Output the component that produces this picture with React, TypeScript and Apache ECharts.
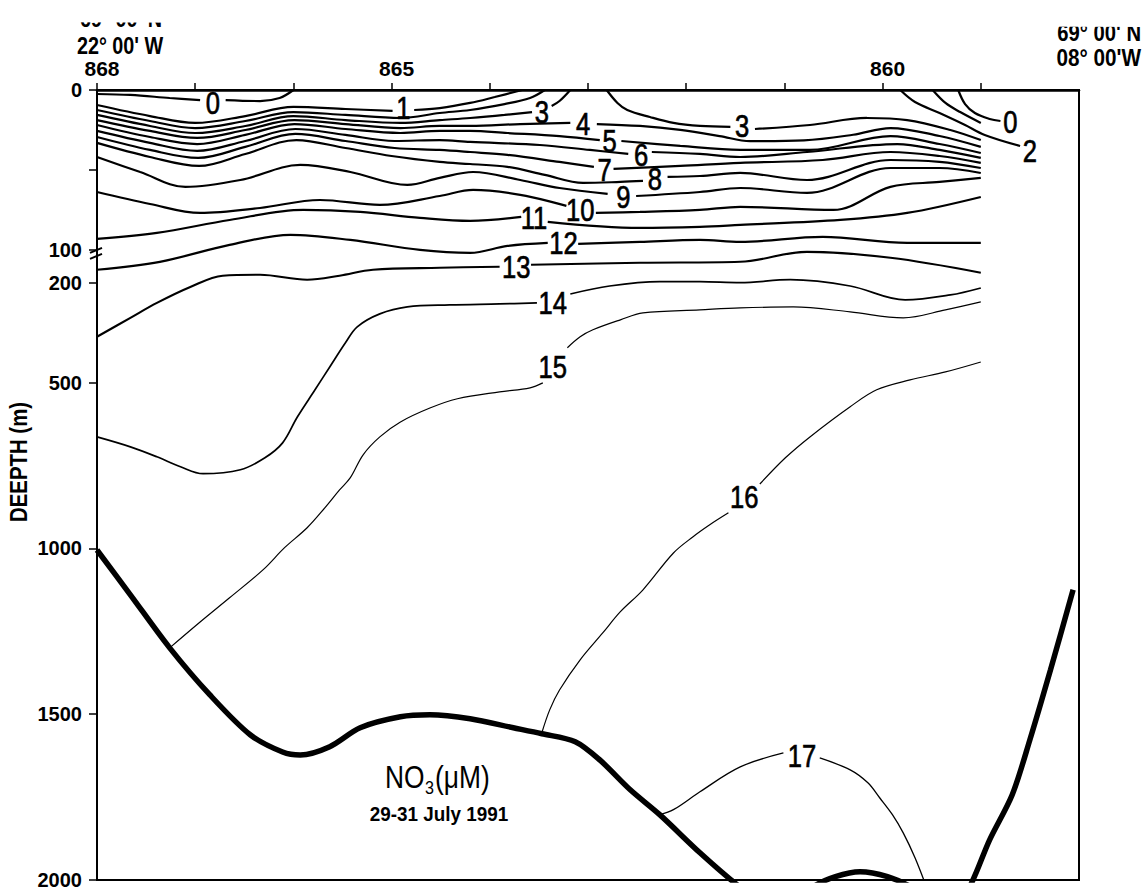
import React, { useEffect, useRef } from 'react';
import * as echarts from 'echarts';

const FONT = "'Liberation Sans', Arial, sans-serif";

// Stations along the section, west (22°W) to east (8°W); x = station index
const stations = [868, 867, 866, 865, 864, 863, 862, 861, 860, 859];
const labelledStations = [868, 865, 860];
const sectionEnd = 10;

// Depth axis (m): upper 100 m stretched, 100–2000 m linear
const depthTicks = [0, 50, 100, 200, 500, 1000, 1500, 2000];
const depthLabels = [0, 100, 200, 500, 1000, 1500, 2000];
const STRETCH = 4.82;
const axisDepth = (d: number) => (d <= 100 ? d * STRETCH : 100 * STRETCH + (d - 100));
const depthFromAxis = (u: number) => (u <= 100 * STRETCH ? u / STRETCH : u - 100 * STRETCH + 100);

// NO3 isolines (µM): segments of [station index, depth m], broken where the value is written
const iso0W = [
  [[0, 2.5], [0.34, 3.1], [0.74, 5], [1.05, 6.3]],
  [[1.31, 6.3], [1.66, 6.9], [1.86, 5], [2.0, 0]],
];
const iso0E = [[[8.77, 0], [8.84, 8.8], [8.94, 14.4], [9.09, 18.1], [9.2, 19.4]]];
const iso1W = [
  [[0, 9.4], [0.54, 16.3], [1.0, 20.6], [1.51, 16.3], [2.0, 10.6], [2.53, 11.9], [3.01, 13.1]],
  [[3.23, 12.5], [3.49, 11.3], [3.8, 8.1], [4.05, 4.4], [4.33, 0]],
];
const iso1E = [[[8.51, 0], [8.64, 8.1], [8.79, 13.8], [9.0, 20.6]]];
const iso2W = [[[0, 12.5], [0.54, 19.4], [1.0, 23.8], [1.51, 19.4], [2.0, 13.8], [2.53, 15.6], [3.09, 17.5], [3.49, 14.4], [3.8, 12.5], [4.15, 8.8], [4.41, 5], [4.56, 0]]];
const iso2E = [[[8.18, 0], [8.33, 7.5], [8.58, 14.4], [8.84, 21.9], [9.04, 28.1], [9.4, 35]]];
const iso3W = [
  [[0, 15.6], [0.54, 22.5], [1.0, 26.9], [1.51, 22.5], [2.0, 16.3], [2.53, 18.8], [3.09, 20.6], [3.49, 18.8], [3.8, 17.5], [4.15, 15.6], [4.43, 13.8]],
  [[4.63, 10], [4.71, 6.9], [4.82, 0]],
];
const iso3E = [
  [[5.19, 0], [5.3, 8.1], [5.4, 12.5], [5.63, 16.9], [5.87, 20.6], [6.14, 22.5], [6.45, 23.1]],
  [[6.7, 24.4], [7.26, 21.9], [7.84, 17.5], [8.25, 18.8], [8.69, 25], [9.0, 31.3]],
];
const iso4 = [
  [[0, 18.8], [0.54, 25.6], [1.02, 30], [1.51, 25], [2.01, 18.8], [2.53, 21.3], [3.09, 23.8], [3.49, 22.5], [3.8, 22.5], [4.31, 21.3], [4.82, 20.6]],
  [[5.09, 21.3], [5.53, 22.5], [5.94, 25], [6.34, 28.8], [6.65, 32], [7.2, 31.5], [7.7, 28], [8.08, 23.8], [8.58, 28.8], [9.0, 35.6]],
];
const iso5 = [
  [[0, 21.9], [0.54, 29.4], [1.02, 33.8], [1.51, 28.1], [2.01, 21.3], [2.53, 24.4], [3.09, 26.9], [3.49, 25.6], [3.8, 25.6], [4.18, 26.9], [4.71, 28.8], [5.12, 31.3]],
  [[5.34, 31.9], [5.94, 35], [6.55, 37.5], [7.26, 37.5], [8.08, 28.8], [8.58, 33.8], [9.0, 39.4]],
];
const iso6 = [
  [[0, 25.6], [0.54, 33.1], [1.02, 38.1], [1.51, 31.9], [2.02, 24.4], [2.53, 28.1], [3.03, 31.9], [3.49, 31.3], [3.8, 32.5], [4.51, 34.4], [5.02, 37.5], [5.41, 40]],
  [[5.65, 38.8], [6.14, 40], [6.55, 41.9], [7.23, 38.8], [8.15, 33.8], [8.58, 37.5], [9.0, 42.5]],
];
const iso7 = [
  [[0, 29.4], [0.54, 37.5], [1.03, 42.5], [1.51, 35.6], [2.02, 27.5], [2.53, 31.9], [3.03, 36.3], [3.49, 37.5], [3.8, 38.8], [4.18, 40.6], [4.71, 45], [5.06, 48.1]],
  [[5.26, 49.4], [5.94, 47.5], [6.55, 45.6], [7.39, 43.8], [8.08, 38.8], [8.58, 41.3], [9.0, 45.6]],
];
const iso8 = [
  [[0, 33.1], [0.54, 41.9], [1.04, 47.5], [1.51, 40], [2.03, 31.3], [2.53, 36.3], [3.0, 41.3], [3.49, 45], [3.8, 46.3], [4.18, 48.1], [4.56, 53.1], [4.95, 58.1], [5.33, 57.5], [5.56, 56.9]],
  [[5.81, 54.4], [6.14, 53.8], [6.55, 51.9], [7.23, 56.3], [8.08, 43.8], [8.58, 45], [9.0, 48.8]],
];
const iso9 = [
  [[0, 41.9], [0.44, 51.3], [0.9, 60.6], [1.46, 56.3], [2.07, 46.9], [2.58, 51.3], [3.16, 59.4], [3.49, 55], [3.83, 51.3], [4.31, 56.3], [4.71, 61.3], [5.2, 65]],
  [[5.49, 66.3], [6.14, 63.8], [6.55, 61.3], [7.23, 64.4], [8.08, 48.8], [8.58, 48.8], [9.0, 51.9]],
];
const iso10 = [
  [[0, 63.8], [0.54, 71.3], [1.05, 76.9], [1.66, 73.8], [2.27, 68.8], [2.88, 71.9], [3.49, 66.3], [3.83, 62.5], [4.31, 65.6], [4.78, 72.5]],
  [[5.08, 76.9], [5.53, 76.3], [6.14, 75], [6.55, 73.1], [7.5, 75], [8.08, 60.6], [8.58, 57.5], [9.0, 55]],
];
const iso11 = [
  [[0, 93.1], [0.61, 89.4], [1.35, 81.3], [2.1, 75], [2.68, 76.3], [3.29, 80], [3.8, 81.9], [4.32, 79.4]],
  [[4.59, 82.5], [5.53, 86.3], [6.14, 85.6], [6.55, 84.4], [7.57, 81.3], [8.25, 76.9], [9.0, 66.9]],
];
const iso12 = [
  [[0, 160], [0.64, 136], [1.35, 96.9], [1.97, 90.6], [2.58, 93.8], [3.29, 100], [3.8, 109], [4.18, 97.5], [4.59, 95.6]],
  [[4.9, 96.3], [5.53, 95], [6.14, 93.8], [6.55, 95], [7.39, 91.9], [8.25, 95.6], [9.0, 95.6]],
];
const iso13 = [
  [[0, 362], [0.34, 305], [0.61, 260], [0.95, 212], [1.28, 178], [1.66, 175], [2.14, 190], [2.47, 178], [2.81, 160], [3.49, 154], [4.1, 151]],
  [[4.42, 145], [5.53, 139], [6.55, 136], [7.23, 106], [8.08, 124], [9.0, 169]],
];
const iso14 = [
  [[0, 664], [0.34, 694], [0.61, 724], [0.85, 754], [1.08, 775], [1.46, 763], [1.71, 727], [1.89, 682], [2.04, 604], [2.22, 522], [2.37, 453], [2.53, 380], [2.65, 332], [2.88, 293], [3.16, 272], [3.59, 266], [4.1, 263], [4.48, 260]],
  [[4.82, 233], [5.22, 209], [5.73, 196], [6.14, 196], [6.55, 199], [7.06, 190], [7.67, 209], [8.23, 251], [8.69, 236], [9.0, 215]],
];
const iso15 = [
  [[0.74, 1300], [1.05, 1222], [1.35, 1149], [1.69, 1065], [1.91, 998], [2.14, 938], [2.32, 878], [2.47, 824], [2.58, 787], [2.71, 718], [2.88, 664], [3.09, 619], [3.39, 577], [3.67, 549], [4.1, 528], [4.41, 516], [4.54, 501]],
  [[4.79, 395], [4.92, 362], [5.05, 341], [5.33, 311], [5.56, 290], [6.14, 281], [6.55, 275], [7.09, 272], [7.67, 287], [8.21, 305], [8.64, 281], [9.0, 257]],
];
const iso16 = [
  [[4.53, 1556], [4.61, 1487], [4.71, 1427], [4.92, 1336], [5.15, 1255], [5.33, 1191], [5.56, 1125], [5.87, 1014], [6.07, 965], [6.24, 929], [6.43, 893]],
  [[6.75, 806], [7.01, 727], [7.26, 664], [7.67, 573], [7.94, 522], [8.28, 492], [8.64, 468], [9.0, 438]],
];
const iso17 = [
  [[5.73, 1803], [5.87, 1788], [6.14, 1734], [6.55, 1659], [6.99, 1617]],
  [[7.36, 1632], [7.67, 1668], [7.85, 1707], [7.97, 1752], [8.1, 1803], [8.21, 1858], [8.33, 1933], [8.45, 2024]],
];

// Sea floor along the section (m)
const seaFloor = [
  [0, 1005], [0.34, 1140], [0.74, 1300], [1.15, 1442], [1.56, 1562], [1.89, 1614], [2.07, 1623], [2.37, 1598],
  [2.68, 1541], [3.09, 1508], [3.39, 1502], [3.8, 1514], [4.24, 1541], [4.53, 1559], [4.87, 1583], [5.12, 1638],
  [5.43, 1728], [5.73, 1803], [6.14, 1918], [6.52, 2015], [6.75, 2060], [7.16, 2060], [7.29, 2021], [7.52, 1990],
  [7.77, 1975], [8.05, 1990], [8.31, 2024], [8.48, 2060], [8.74, 2060], [8.87, 2030], [9.09, 1879], [9.32, 1743],
  [9.5, 1577], [9.71, 1366], [9.94, 1125],
];

// Isoline values written on the section: [text, station index, depth m]
const contourLabels: [string, number, number][] = [
  ['0', 1.18, 8.1], ['1', 3.12, 11.3], ['3', 4.53, 13.8], ['4', 4.95, 21.3], ['5', 5.22, 31.9],
  ['6', 5.54, 40.6], ['7', 5.17, 50], ['8', 5.68, 55.6], ['9', 5.36, 66.9], ['10', 4.92, 75],
  ['11', 4.45, 80], ['12', 4.75, 95.6], ['13', 4.27, 151], ['14', 4.64, 260], ['15', 4.64, 453],
  ['16', 6.59, 845], ['17', 7.18, 1626], ['3', 6.57, 22.5], ['0', 9.3, 20], ['2', 9.5, 38.1],
];

const isolines: [number[][][], number][] = [
  [iso0W, 2.2], [iso0E, 2.2], [iso1W, 2.2], [iso1E, 2.2], [iso2W, 2.2], [iso2E, 2.2],
  [iso3W, 2.2], [iso3E, 2.2], [iso4, 2.2], [iso5, 2.2], [iso6, 2.2], [iso7, 2.2], [iso8, 2.2],
  [iso9, 2.2], [iso10, 2.2], [iso11, 2.2], [iso12, 2.2], [iso13, 2.1], [iso14, 1.7],
  [iso15, 1.2], [iso16, 1.2], [iso17, 1.3],
];

export default function App() {
  const ref = useRef<HTMLDivElement>(null);

  useEffect(() => {
    if (!ref.current) return;
    const chart = echarts.init(ref.current, null, { renderer: 'svg' });

    const series: any[] = [];
    isolines.forEach(([segments, width]) => {
      segments.forEach((seg) => {
        series.push({
          type: 'line',
          data: seg.map(([s, d]) => [s, axisDepth(d)]),
          showSymbol: false,
          symbol: 'none',
          smooth: 0.35,
          lineStyle: { color: '#000', width },
          silent: true,
          z: 3,
        });
      });
    });
    series.push({
      type: 'line',
      data: seaFloor.map(([s, d]) => [s, axisDepth(d)]),
      showSymbol: false,
      symbol: 'none',
      smooth: 0.3,
      clip: true,
      lineStyle: { color: '#000', width: 5.5 },
      silent: true,
      z: 4,
    });
    // isoline values, written in a narrow lettering
    series.push({
      type: 'custom',
      data: contourLabels.map(([, s, d]) => [s, axisDepth(d)]),
      renderItem: (params: any, api: any) => {
        const p = api.coord([api.value(0), api.value(1)]);
        return {
          type: 'text',
          x: p[0],
          y: p[1],
          scaleX: 0.8,
          style: {
            text: contourLabels[params.dataIndex][0],
            fontSize: 32,
            fontFamily: FONT,
            fill: '#000',
            stroke: '#000',
            lineWidth: 0.7,
            align: 'center',
            verticalAlign: 'middle',
          },
        };
      },
      silent: true,
      z: 5,
    });

    chart.setOption({
      animation: false,
      backgroundColor: '#fff',
      grid: { left: 97, right: 66, top: 90, bottom: 11, show: true, borderColor: '#000', borderWidth: 2 },
      xAxis: {
        type: 'value',
        position: 'top',
        min: 0,
        max: sectionEnd,
        axisLine: { show: true, lineStyle: { color: '#000', width: 2.5 } },
        axisTick: {
          show: true,
          inside: false,
          length: 7,
          customValues: stations.map((_, i) => i),
          lineStyle: { color: '#000', width: 1.5 },
        },
        axisLabel: {
          customValues: labelledStations.map((st) => stations.indexOf(st)),
          formatter: (v: number) => String(stations[Math.round(v)]),
          margin: 11,
          padding: [0, 0, 0, 10],
          fontSize: 21,
          fontWeight: 'bold',
          fontFamily: FONT,
          color: '#000',
        },
        splitLine: { show: false },
      },
      yAxis: {
        type: 'value',
        inverse: true,
        min: 0,
        max: axisDepth(2000),
        axisLine: { show: true, lineStyle: { color: '#000', width: 2 } },
        axisTick: {
          show: true,
          inside: false,
          length: 8,
          customValues: depthTicks.map(axisDepth),
          lineStyle: { color: '#000', width: 1.5 },
        },
        axisLabel: {
          customValues: depthLabels.map(axisDepth),
          formatter: (v: number) => String(Math.round(depthFromAxis(v))),
          margin: 15,
          fontSize: 20,
          fontWeight: 'bold',
          fontFamily: FONT,
          color: '#000',
        },
        splitLine: { show: false },
      },
      series,
    });

    // axis break mark at 100 m, placed from the axis scale
    const [bx, by] = chart.convertToPixel({ xAxisIndex: 0, yAxisIndex: 0 }, [0, axisDepth(100)]) as number[];
    const txt = (text: string, x: number, y: number, size: number, align: string, weight = 'bold', extra: any = {}) => ({
      type: 'text',
      x,
      y,
      ...extra,
      style: { text, fontSize: size, fontWeight: weight, fontFamily: FONT, fill: '#000', align, verticalAlign: 'middle' },
    });

    chart.setOption({
      graphic: [
        { type: 'line', shape: { x1: bx - 7, y1: by + 3, x2: bx + 5, y2: by - 2 }, style: { stroke: '#000', lineWidth: 2 } },
        { type: 'line', shape: { x1: bx - 7, y1: by + 9, x2: bx + 5, y2: by + 4 }, style: { stroke: '#000', lineWidth: 2 } },
        txt('69° 00\' N', 121, 19, 23, 'center', 'bold', { scaleX: 0.86 }),
        txt('22° 00\' W', 120, 46, 23, 'center', 'bold', { scaleX: 0.86 }),
        txt('69° 00\' N', 1141, 33, 23, 'right', 'bold', { scaleX: 0.88 }),
        txt('08° 00\'W', 1141, 58, 23, 'right', 'bold', { scaleX: 0.9 }),
        {
          type: 'polygon',
          shape: { points: [[0, 0], [1145, 0], [1145, 27], [0, 22]] },
          style: { fill: '#fff' },
          z: 100,
        },
        txt('DEEPTH (m)', 19, 462, 24, 'center', 'bold', { rotation: Math.PI / 2, scaleX: 0.85 }),
        txt('NO', 385, 777, 31, 'left', 'normal', { scaleX: 0.85 }),
        txt('3', 425, 788, 19, 'left', 'normal', { scaleX: 0.85 }),
        txt('(μM)', 435, 777, 31, 'left', 'normal', { scaleX: 0.85 }),
        txt('29-31 July 1991', 439, 814, 21, 'center', 'bold', { scaleX: 0.9 }),
      ],
    });

    return () => chart.dispose();
  }, []);

  return <div ref={ref} style={{ position: 'absolute', left: 0, top: 0, width: 1145, height: 891 }} />;
}
